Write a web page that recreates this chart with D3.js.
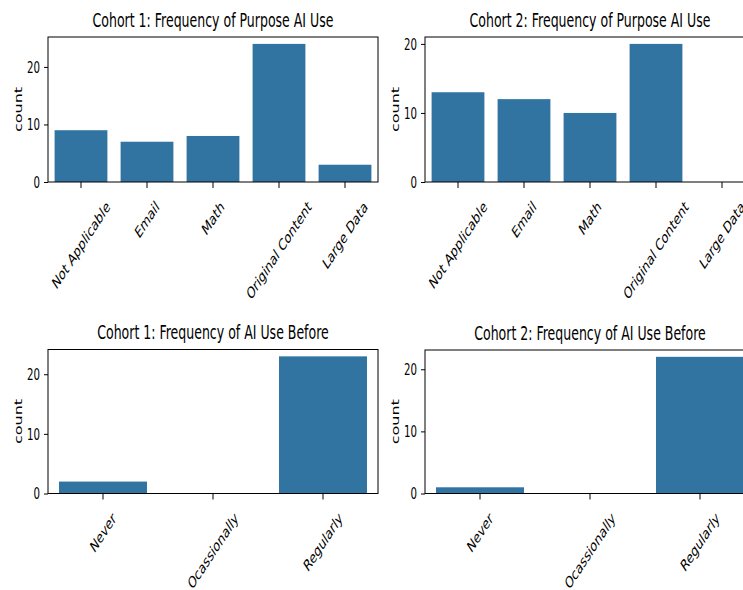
<!DOCTYPE html>
<html>
  <head>
    <meta charset="utf-8">
    <script src="https://d3js.org/d3.v7.min.js"></script>
    <style>
      body { margin: 0; background: #fff; }
      svg text { font-family: "DejaVu Sans", sans-serif; fill: #000; }
    </style>
  </head>
<body>
  <script type="text/javascript">

    // categories
    var purposeCats = ["Not Applicable", "Email", "Math", "Original Content", "Large Data"];
    var beforeCats = ["Never", "Ocassionally", "Regularly"];

    // counts
    var cohort1Purpose = [9, 7, 8, 24, 3];
    var cohort2Purpose = [13, 12, 10, 20, 0];
    var cohort1Before = [2, 0, 23];
    var cohort2Before = [1, 0, 22];

    var yTicks = [0, 10, 20];

    var titles = [
      "Cohort 1: Frequency of Purpose AI Use",
      "Cohort 2: Frequency of Purpose AI Use",
      "Cohort 1: Frequency of AI Use Before",
      "Cohort 2: Frequency of AI Use Before"
    ];

    // the picture is squeezed horizontally, text gets the same squeeze
    var sx = 0.66;
    var barColor = "#3274a1";

    var panels = [
      {title: titles[0], cats: purposeCats, vals: cohort1Purpose, left: 48, top: 37, bottom: 182},
      {title: titles[1], cats: purposeCats, vals: cohort2Purpose, left: 425, top: 37, bottom: 182},
      {title: titles[2], cats: beforeCats, vals: cohort1Before, left: 48, top: 349.5, bottom: 493.5},
      {title: titles[3], cats: beforeCats, vals: cohort2Before, left: 425, top: 350, bottom: 493.5}
    ];
    var axW = 330;

    var svg = d3.select("body")
      .append("svg")
        .attr("width", 743)
        .attr("height", 590);

    panels.forEach(function(p) {
      var h = p.bottom - p.top;
      var g = svg.append("g")
        .attr("transform", "translate(" + p.left + "," + p.top + ")");

      var x = d3.scaleBand()
        .domain(p.cats)
        .range([0, axW])
        .paddingInner(0.2)
        .paddingOuter(0.1);

      var y = d3.scaleLinear()
        .domain([0, d3.max(p.vals) * 1.05])
        .range([h, 0]);

      // bars
      g.selectAll("rect.bar")
        .data(p.cats)
        .enter()
        .append("rect")
          .attr("class", "bar")
          .attr("x", function(d) { return x(d); })
          .attr("width", x.bandwidth())
          .attr("y", function(d, i) { return y(p.vals[i]); })
          .attr("height", function(d, i) { return h - y(p.vals[i]); })
          .attr("fill", barColor);

      // y axis
      var ya = g.append("g")
        .call(d3.axisLeft(y).tickValues(yTicks).tickSize(4).tickSizeOuter(0));
      ya.select(".domain").remove();
      ya.selectAll(".tick line").attr("stroke", "#000");
      ya.selectAll(".tick text")
        .attr("x", null)
        .attr("dy", "0.35em")
        .attr("transform", "translate(-8,0) scale(" + sx + ",1)")
        .style("font-size", "15.5px")
        .style("font-family", "DejaVu Sans");

      // x axis, labels are added separately
      var xa = g.append("g")
        .attr("transform", "translate(0," + h + ")")
        .call(d3.axisBottom(x).tickSize(6).tickSizeOuter(0));
      xa.select(".domain").remove();
      xa.selectAll(".tick text").remove();
      xa.selectAll(".tick line").attr("stroke", "#000");

      var labelTop = h + 15;
      g.selectAll("text.xlab")
        .data(p.cats)
        .enter()
        .append("text")
          .attr("class", "xlab")
          .attr("text-anchor", "middle")
          .attr("dy", "0.35em")
          .style("font-size", "16px")
          .attr("transform", function(d) {
            return "translate(" + (x(d) + x.bandwidth() / 2) + "," + labelTop + ") scale(" + sx + ",1) rotate(-45)";
          })
          .text(function(d) { return d; })
          .each(function(d) {
            // shift down so the top of the rotated label sits at labelTop
            var r = this.getBoundingClientRect();
            var shift = (p.top + labelTop) - r.top;
            d3.select(this).attr("transform",
              "translate(" + (x(d) + x.bandwidth() / 2) + "," + (labelTop + shift) + ") scale(" + sx + ",1) rotate(-45)");
          });

      // frame
      g.append("rect")
        .attr("width", axW)
        .attr("height", h)
        .attr("fill", "none")
        .attr("stroke", "#000")
        .attr("stroke-width", 1);

      // y label
      g.append("text")
        .attr("text-anchor", "middle")
        .attr("transform", "translate(-30," + (h / 2) + ") scale(" + sx + ",1) rotate(-90)")
        .attr("dy", "0.35em")
        .style("font-size", "16px")
        .text("count");

      // title
      g.append("text")
        .attr("text-anchor", "middle")
        .attr("transform", "translate(" + (axW / 2) + ",-10.5) scale(" + sx + ",1)")
        .style("font-size", "19px")
        .text(p.title);
    });

  </script>
</body>
</html>
